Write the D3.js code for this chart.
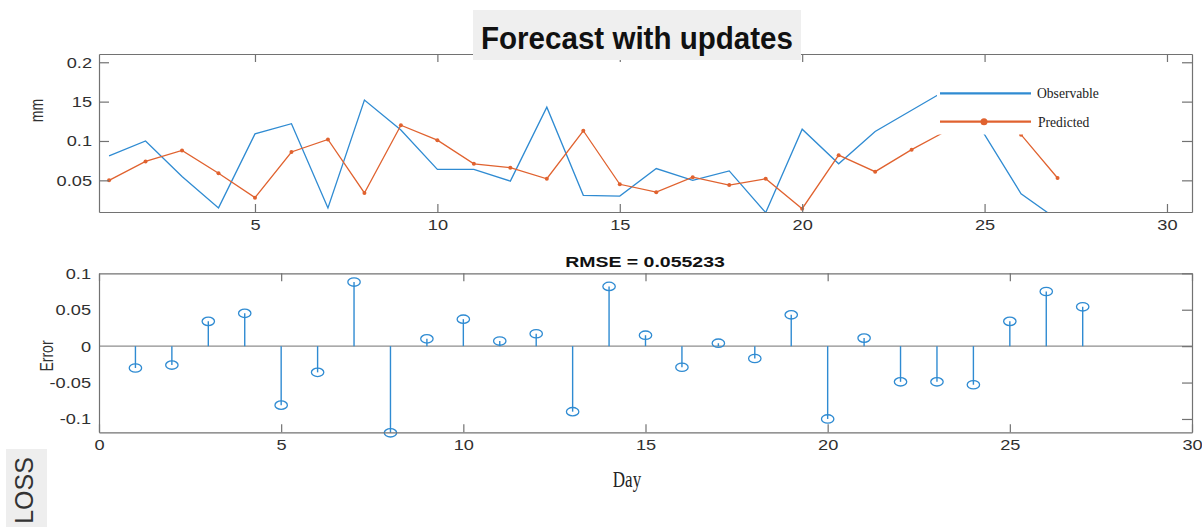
<!DOCTYPE html>
<html><head><meta charset="utf-8">
<script src="https://cdn.jsdelivr.net/npm/d3@7"></script>
<style>body{margin:0;background:#fff;} svg{display:block}</style>
</head><body><svg id="c" width="1202" height="527"></svg>
<script>
const days = [1,2,3,4,5,6,7,8,9,10,11,12,13,14,15,16,17,18,19,20,21,22,23,24,25,26,27];
const observable = [0.081,0.100,0.055,0.015,0.109,0.122,0.015,0.152,0.114,0.064,0.064,0.049,0.143,0.031,0.030,0.065,0.050,0.062,0.009,0.115,0.071,0.112,0.139,0.166,0.108,0.033,0.000];
const predicted  = [0.050,0.074,0.088,0.059,0.028,0.086,0.102,0.034,0.120,0.101,0.071,0.066,0.052,0.113,0.045,0.035,0.054,0.044,0.052,0.014,0.082,0.061,0.089,0.114,0.141,0.108,0.053];
const errors     = [-0.030,-0.026,0.034,0.045,-0.081,-0.036,0.088,-0.119,0.010,0.037,0.007,0.017,-0.090,0.082,0.015,-0.029,0.004,-0.017,0.043,-0.100,0.011,-0.049,-0.049,-0.053,0.034,0.075,0.054];
const topXTicks = [5,10,15,20,25,30];
const topYTicks = [0.05,0.1,0.15,0.2];
const topYLabels = ["0.05","0.1","15","0.2"];
const botXTicks = [0,5,10,15,20,25,30];
const botYTicks = [-0.1,-0.05,0,0.05,0.1];
const botYLabels = ["-0.1","-0.05","0","0.05","0.1"];
const titleText = "Forecast with updates";
const rmseText = "RMSE = 0.055233";
const seriesNames = ["Observable","Predicted"];
const topYTitle = "mm", botYTitle = "Error", xTitle = "Day", sideText = "LOSS";

const svg = d3.select("#c");
const blue = "#2f8bd2", orange = "#e0622f", axisCol = "#727272", textCol = "#303030";
const sansF = "'Liberation Sans', Arial, sans-serif";
const serifF = "'Liberation Serif', 'Times New Roman', serif";
const SX = 1.3;

// ---------- top chart ----------
const tx = d3.scaleLinear().domain([0.724, 30.686]).range([99, 1192]);
const ty = d3.scaleLinear().domain([0.00978, 0.2105]).range([212, 54]);

svg.append("defs").append("clipPath").attr("id","clipTop")
  .append("rect").attr("x",99).attr("y",54).attr("width",1093).attr("height",158);

const obsData = days.map((d,i)=>({day:d, v:observable[i]}));
const preData = days.map((d,i)=>({day:d, v:predicted[i]}));
const lineT = d3.line().x(d=>tx(d.day)).y(d=>ty(d.v));

const gTop = svg.append("g").attr("clip-path","url(#clipTop)");
gTop.append("path").datum(obsData).attr("d",lineT).attr("fill","none").attr("stroke",blue).attr("stroke-width",1.3);
gTop.append("path").datum(preData).attr("d",lineT).attr("fill","none").attr("stroke",orange).attr("stroke-width",1.3);
gTop.selectAll("circle.pm").data(preData).join("circle").attr("class","pm")
  .attr("cx",d=>tx(d.day)).attr("cy",d=>ty(d.v)).attr("r",2).attr("fill",orange);

// legend (white box covering lines)
const leg = svg.append("g");
leg.append("rect").attr("x",937).attr("y",68).attr("width",178).attr("height",66.5).attr("fill","#fff");
leg.append("line").attr("x1",940).attr("x2",1031).attr("y1",93.3).attr("y2",93.3).attr("stroke",blue).attr("stroke-width",2.2);
leg.append("line").attr("x1",940).attr("x2",1031).attr("y1",121.7).attr("y2",121.7).attr("stroke",orange).attr("stroke-width",2.2);
leg.append("circle").attr("cx",984).attr("cy",121.7).attr("r",3.5).attr("fill",orange);
leg.selectAll("text").data(seriesNames).join("text")
  .attr("x",(d,i)=> i===0?1037:1038).attr("y",(d,i)=> i===0?98:126.5)
  .attr("font-family",serifF).attr("font-size",13.6).attr("fill","#222").text(d=>d);

function styleAxis(g){
  g.select(".domain").attr("stroke",axisCol).attr("stroke-width",1.2);
  g.selectAll(".tick line").attr("stroke",axisCol).attr("stroke-width",1.2);
  g.selectAll("text").attr("font-family",sansF).attr("font-size",14).attr("fill",textCol);
}

const gtb = svg.append("g").attr("transform","translate(0,212)")
  .call(d3.axisBottom(tx).tickValues(topXTicks).tickSizeInner(-8).tickSizeOuter(0).tickFormat(d3.format("d")));
styleAxis(gtb);
gtb.selectAll("text").attr("y",null).attr("dy",null).attr("transform",`translate(0,18) scale(${SX},1)`);

const gtt = svg.append("g").attr("transform","translate(0,54)")
  .call(d3.axisTop(tx).tickValues(topXTicks).tickSizeInner(-8).tickSizeOuter(0).tickFormat(""));
styleAxis(gtt);

const gtl = svg.append("g").attr("transform","translate(99,0)")
  .call(d3.axisLeft(ty).tickValues(topYTicks).tickSizeInner(-10).tickSizeOuter(0).tickFormat((d,i)=>topYLabels[i]));
styleAxis(gtl);
gtl.selectAll("text").attr("x",null).attr("dy",null).attr("transform",`translate(-7,5) scale(${SX},1)`);

const gtr = svg.append("g").attr("transform","translate(1192,0)")
  .call(d3.axisRight(ty).tickValues(topYTicks).tickSizeInner(-10).tickSizeOuter(0).tickFormat(""));
styleAxis(gtr);

svg.append("text").attr("transform",`translate(43,110.5) scale(${SX},1) rotate(-90)`)
  .attr("text-anchor","middle").attr("font-family",sansF).attr("font-size",14).attr("fill",textCol).text(topYTitle);

// ---------- bottom chart ----------
const bx = d3.scaleLinear().domain([0,30]).range([99,1192]);
const by = d3.scaleLinear().domain([-0.1183,0.1]).range([432.3,273.3]);
const errData = days.map((d,i)=>({day:d, v:errors[i]}));

svg.append("line").attr("x1",bx(0)).attr("x2",bx(30)).attr("y1",by(0)).attr("y2",by(0))
  .attr("stroke","#8e8e8e").attr("stroke-width",1.2);

const gB = svg.append("g");
gB.selectAll("line.stem").data(errData).join("line").attr("class","stem")
  .attr("x1",d=>bx(d.day)).attr("x2",d=>bx(d.day)).attr("y1",by(0)).attr("y2",d=>by(d.v))
  .attr("stroke",blue).attr("stroke-width",1.4);
gB.selectAll("ellipse").data(errData).join("ellipse")
  .attr("cx",d=>bx(d.day)).attr("cy",d=>by(d.v)).attr("rx",6.2).attr("ry",4.2)
  .attr("fill","none").attr("stroke",blue).attr("stroke-width",1.3);

const gbb = svg.append("g").attr("transform","translate(0,432.3)")
  .call(d3.axisBottom(bx).tickValues(botXTicks).tickSizeInner(-8).tickSizeOuter(0).tickFormat(d3.format("d")));
styleAxis(gbb);
gbb.selectAll("text").attr("y",null).attr("dy",null).attr("transform",`translate(0,18) scale(${SX},1)`);

const gbt = svg.append("g").attr("transform","translate(0,273.3)")
  .call(d3.axisTop(bx).tickValues(botXTicks).tickSizeInner(-8).tickSizeOuter(0).tickFormat(""));
styleAxis(gbt);

const gbl = svg.append("g").attr("transform","translate(99,0)")
  .call(d3.axisLeft(by).tickValues(botYTicks).tickSizeInner(0).tickSizeOuter(0).tickFormat((d,i)=>botYLabels[i]));
styleAxis(gbl);
gbl.selectAll("text").attr("x",null).attr("dy",null).attr("transform",`translate(-8,5) scale(${SX},1)`);

const gbr = svg.append("g").attr("transform","translate(1192,0)")
  .call(d3.axisRight(by).tickValues(botYTicks).tickSizeInner(-10).tickSizeOuter(0).tickFormat(""));
styleAxis(gbr);

svg.append("text").attr("transform",`translate(53,356) scale(${SX},1) rotate(-90)`)
  .attr("text-anchor","middle").attr("font-family",sansF).attr("font-size",14).attr("fill",textCol).text(botYTitle);

svg.append("text").attr("transform",`translate(645,266.5) scale(${SX},1)`)
  .attr("text-anchor","middle").attr("font-family",sansF).attr("font-weight","bold").attr("font-size",15)
  .attr("fill","#111").text(rmseText);

svg.append("text").attr("transform","translate(627,486.5) scale(1,1.3)")
  .attr("text-anchor","middle").attr("font-family",serifF).attr("font-size",17).attr("fill","#222").text(xTitle);

// ---------- title overlay ----------
svg.append("rect").attr("x",473).attr("y",10).attr("width",328).attr("height",50).attr("fill","#efefef");
svg.append("text").attr("x",637).attr("y",49.3).attr("text-anchor","middle")
  .attr("font-family",sansF).attr("font-weight","bold").attr("font-size",31)
  .attr("textLength",312).attr("lengthAdjust","spacingAndGlyphs").attr("fill","#111").text(titleText);

// ---------- side label ----------
svg.append("rect").attr("x",6).attr("y",449).attr("width",41).attr("height",78).attr("fill","#eeeeee");
svg.append("text").attr("transform","translate(33,490.5) rotate(-90)").attr("text-anchor","middle")
  .attr("font-family",sansF).attr("font-size",25).attr("fill","#333").text(sideText);
</script></body></html>
